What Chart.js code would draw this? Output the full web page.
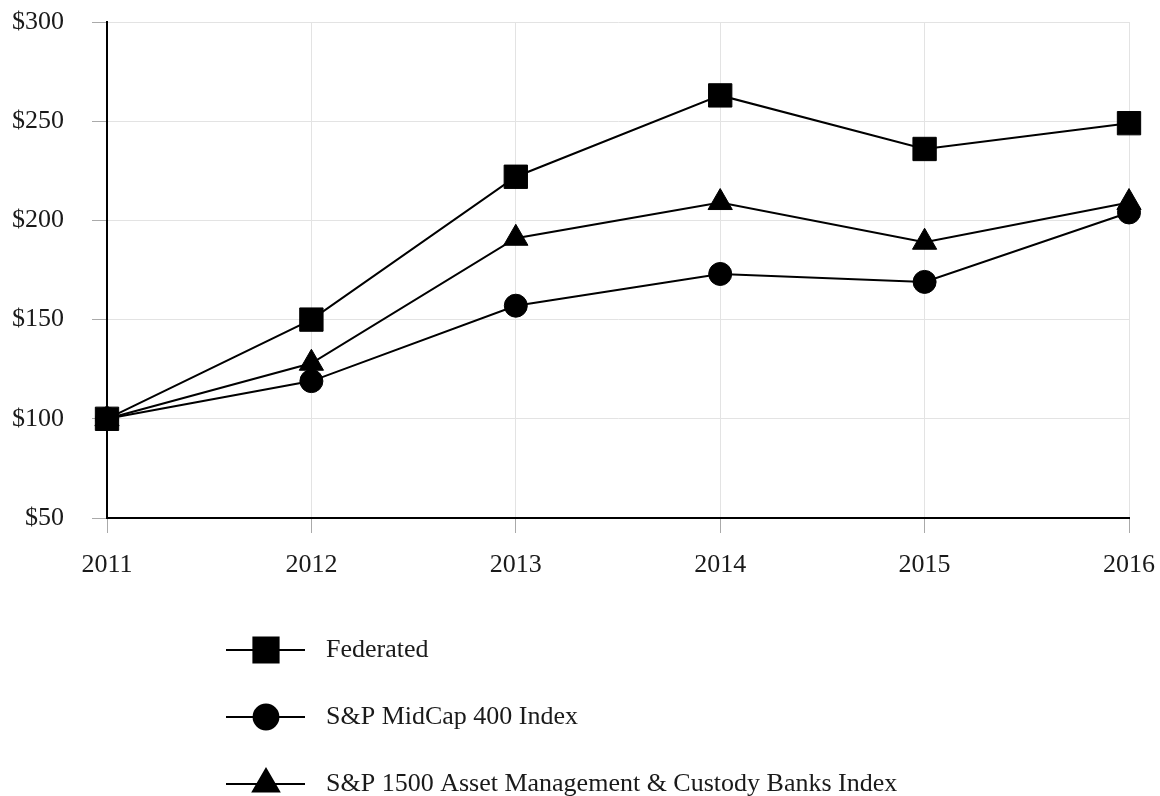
<!DOCTYPE html>
<html>
<head>
<meta charset="utf-8">
<script src="https://cdn.jsdelivr.net/npm/chart.js@4/dist/chart.umd.min.js"></script>
<style>
  html, body { margin: 0; padding: 0; background: #fff; }
  #wrap { width: 1160px; height: 796px; position: relative; }
</style>
</head>
<body>
<div id="wrap"><canvas id="myChart" width="1160" height="796"></canvas></div>
<script>
/** Chart data **/
const years = ["2011", "2012", "2013", "2014", "2015", "2016"];
const federated = [100, 150, 222, 263, 236, 249];
const midCap = [100, 119, 157, 173, 169, 204];
const assetMgmt = [100, 128, 191, 209, 189, 209];
const seriesNames = [
  "Federated",
  "S&P MidCap 400 Index",
  "S&P 1500 Asset Management & Custody Banks Index",
];
const yTicks = [50, 100, 150, 200, 250, 300];

const serif = '"Liberation Serif", "Times New Roman", serif';
const ink = "#1a1a1a";

//  Legend drawn as a vertical list under the plot
const stackedLegend = {
  id: "stackedLegend",
  afterDraw(chart) {
    const ctx = chart.ctx;
    chart.data.datasets.forEach((ds, i) => {
      const y = 650 + i * 67;
      ctx.save();
      ctx.strokeStyle = "#000";
      ctx.fillStyle = "#000";
      ctx.lineWidth = 2;
      ctx.beginPath();
      ctx.moveTo(226, y);
      ctx.lineTo(305, y);
      ctx.stroke();
      Chart.helpers.drawPoint(
        ctx,
        { pointStyle: ds.pointStyle, radius: ds.pointRadius * 1.08, rotation: 0, borderWidth: 1 },
        266,
        y
      );
      ctx.fillStyle = ink;
      ctx.font = "26px " + serif;
      ctx.textBaseline = "middle";
      ctx.textAlign = "left";
      ctx.fillText(ds.label, 326, y);
      ctx.restore();
    });
  },
};

function lineSet(label, data, style, radius) {
  return {
    label: label,
    data: data,
    borderColor: "#000",
    backgroundColor: "#000",
    borderWidth: 2,
    pointStyle: style,
    pointRadius: radius,
    pointHoverRadius: radius,
    pointBackgroundColor: "#000",
    pointBorderColor: "#000",
    pointBorderWidth: 1,
    tension: 0,
  };
}

const ctx = document.getElementById("myChart");

let myChart = new Chart(ctx, {
  type: "line",
  data: {
    labels: years,
    datasets: [
      lineSet(seriesNames[0], federated, "rect", 16.5),
      lineSet(seriesNames[1], midCap, "circle", 11.5),
      lineSet(seriesNames[2], assetMgmt, "triangle", 14),
    ],
  },
  options: {
    responsive: false,
    animation: false,
    layout: { padding: { top: 22, right: 31, bottom: 0, left: 0 } },
    plugins: {
      legend: { display: false },
      tooltip: { enabled: false },
    },
    scales: {
      x: {
        offset: false,
        afterFit(scale) {
          scale.height = 278;
          scale.paddingLeft = 0;
          scale.paddingRight = 0;
        },
        grid: {
          color: "#e3e3e3",
          tickColor: "#aaaaaa",
          tickLength: 15,
          lineWidth: 1,
        },
        border: { color: "#000", width: 2 },
        ticks: {
          color: ink,
          font: { family: serif, size: 26 },
          padding: 17,
          maxRotation: 0,
        },
      },
      y: {
        min: yTicks[0],
        max: yTicks[yTicks.length - 1],
        afterFit(scale) {
          scale.width = 107;
          scale.paddingTop = 0;
          scale.paddingBottom = 0;
        },
        afterBuildTicks(scale) {
          scale.ticks = yTicks.map((v) => ({ value: v }));
        },
        grid: {
          color: "#e3e3e3",
          tickColor: "#aaaaaa",
          tickLength: 15,
          lineWidth: 1,
        },
        border: { color: "#000", width: 2 },
        ticks: {
          color: ink,
          font: { family: serif, size: 26 },
          padding: 28,
          callback: (v) => "$" + v,
        },
      },
    },
  },
  plugins: [stackedLegend],
});
</script>
</body>
</html>
